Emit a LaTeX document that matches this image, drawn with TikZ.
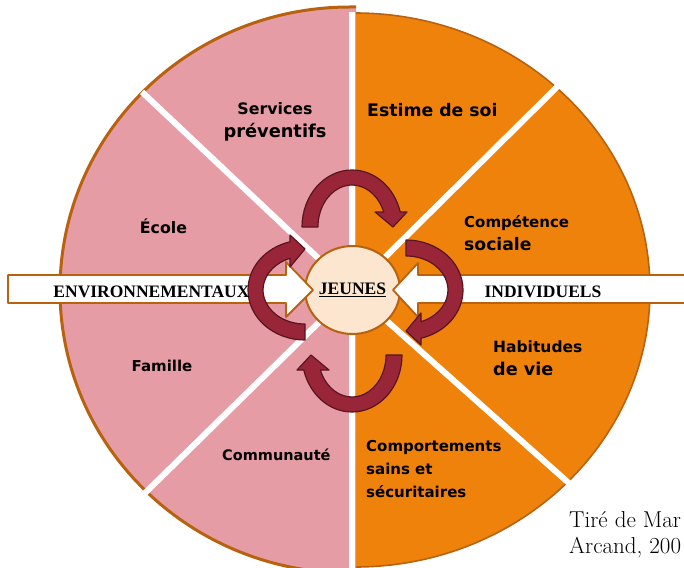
\documentclass[tikz,border=0pt]{standalone}
\usepackage{fontspec}
\usetikzlibrary{shapes.geometric}
\newfontfamily\comicfont{DejaVu Sans}
\newfontfamily\boldserif{Liberation Serif}
\definecolor{rosefill}{RGB}{229,156,164}
\definecolor{orangefill}{RGB}{239,130,11}
\definecolor{rimcolor}{RGB}{184,98,16}
\definecolor{peach}{RGB}{253,230,208}
\definecolor{arrowred}{RGB}{152,38,56}
\definecolor{arrowdark}{RGB}{90,20,32}
\tikzset{
  pics/turn/.style={code={
      \draw[turnarrow,y=1pt] (-50,0) arc[start angle=180,end angle=15.3,x radius=50,y radius=57]
        -- (55,15) -- (41,0) -- (23,15) -- (31.7,15)
        arc[start angle=21,end angle=180,x radius=34,y radius=42] -- cycle;
  }}
}
\begin{document}
\begin{tikzpicture}[x=1pt,y=-1pt,line join=round,
    divider/.style={white,line width=6pt},
    whitearrow/.style={draw=rimcolor,fill=white,line width=1.8pt},
    turnarrow/.style={draw=arrowdark,fill=arrowred,line width=1.2pt},
    hubnode/.style={ellipse,draw=rimcolor,fill=peach,line width=2pt,minimum width=91pt,minimum height=88pt,inner sep=0pt,
      font=\boldserif\bfseries\fontsize{17.5}{20}\selectfont},
    lbl/.style={font=\comicfont\bfseries\fontsize{#1}{23}\selectfont,inner sep=0pt},
    lbl/.default=15.5,
    side/.style={font=\boldserif\bfseries\fontsize{17.5}{20}\selectfont,inner sep=0pt,anchor=base}]
\useasboundingbox (0,0) rectangle (684,567);
% the two halves
\fill[orangefill] (355,13) arc[start angle=-90,end angle=90,x radius=295,y radius=277] -- cycle;
\draw[rimcolor,line width=1.6pt] (355,13) arc[start angle=-90,end angle=90,x radius=295,y radius=277];
\fill[rosefill] (356,7) -- (350,7) arc[start angle=-90,end angle=-270,x radius=290,y radius=283] -- (356,573) -- cycle;
\draw[rimcolor,line width=3pt] (356,7) -- (350,7) arc[start angle=-90,end angle=-270,x radius=290,y radius=283];
% dividers
\coordinate (hub) at (352,290);
\coordinate (top) at (352,12);
\coordinate (bot) at (352,580);
\coordinate (ul) at (142,92);
\coordinate (ll) at (145,493);
\coordinate (ur) at (559,85);
\coordinate (lr) at (571,485);
\draw[divider] (top) -- (bot);
\draw[divider] (ul) -- (hub) -- (lr);
\draw[divider] (ll) -- (hub) -- (ur);
\node[hubnode] (jeunes) at (352.5,290) {\underline{JEUNES}};
% white arrows
\draw[whitearrow] (8,275) -- (286,275) -- (286,262) -- (313,290) -- (286,317) -- (286,303) -- (8,303) -- cycle;
\draw[whitearrow] (700,275) -- (418,275) -- (418,263) -- (393,290) -- (418,317) -- (418,303) -- (700,303) -- cycle;
% turning arrows
\pic at (352,227) {turn};
\pic[rotate=-90] at (406,290) {turn};
\pic[rotate=180] at (352,355) {turn};
\pic[rotate=90] at (305,290) {turn};
% labels (base = last line)
\node[side] (env) at (151.5,297) {ENVIRONNEMENTAUX};
\node[side] (indiv) at (543,297) {INDIVIDUELS};
\node[lbl=15.8,anchor=base,align=center] (services) at (275,137) {Services\\{\fontsize{17.8}{23}\selectfont préventifs}};
\node[lbl=17.3,anchor=base west] (estime) at (367,116) {Estime de soi};
\node[lbl=15.8,anchor=base] (ecole) at (163.5,233) {École};
\node[lbl=15,anchor=base west,align=left] (competence) at (464,250) {Compétence\\{\fontsize{17.2}{23}\selectfont sociale}};
\node[lbl=15.5,anchor=base west,align=left] (habitudes) at (493,375) {Habitudes\\{\fontsize{17.6}{23}\selectfont de vie}};
\node[lbl=15,anchor=base] (famille) at (162,371) {Famille};
\node[lbl=14.5,anchor=base west] (communaute) at (222,460) {Communauté};
\node[lbl=15,anchor=base west,align=left] (comportements) at (366,497) {Comportements\\sains et\\sécuritaires};
\node[font=\fontsize{23}{26}\selectfont,anchor=base west,align=left,inner sep=0pt] (source) at (569,553) {Tiré de Mar\\Arcand, 200};
\end{tikzpicture}
\end{document}
